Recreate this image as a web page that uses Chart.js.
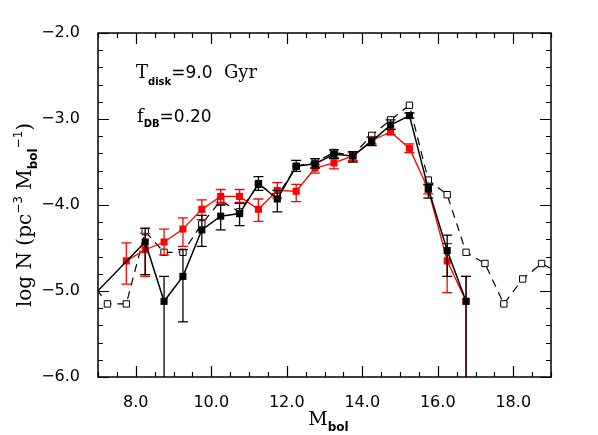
<!DOCTYPE html>
<html>
<head>
<meta charset="utf-8">
<script src="https://cdn.jsdelivr.net/npm/chart.js@4"></script>
<style>
  html, body { margin: 0; padding: 0; background: #fff; }
</style>
</head>
<body>
<canvas id="lf" width="598" height="435"></canvas>
<script>
// luminosity function (x = M_bol bin centres)
const X_TICKS = [8, 10, 12, 14, 16, 18];
const Y_TICKS = [-6, -5, -4, -3, -2];

// black filled squares (solid line); first bin sits off the left edge
const BLACK_X = [6.75, 8.25, 8.75, 9.25, 9.75, 10.25, 10.75, 11.25, 11.75, 12.25, 12.75, 13.25, 13.75, 14.25, 14.75, 15.25, 15.75, 16.25, 16.75];
const BLACK_Y = [-5.11, -4.43, -5.12, -4.83, -4.29, -4.13, -4.10, -3.75, -3.93, -3.55, -3.52, -3.41, -3.43, -3.26, -3.07, -2.96, -3.81, -4.53, -5.12];
const BLACK_LO = [null, -4.81, -6.5, -5.36, -4.48, -4.29, -4.24, -3.83, -4.08, -3.61, -3.57, -3.46, -3.50, -3.31, -3.12, -2.99, -3.92, -4.83, -6.5];
const BLACK_HI = [null, -4.27, -4.83, -4.52, -4.12, -4.00, -3.98, -3.67, -3.83, -3.48, -3.46, -3.36, -3.38, -3.21, -3.01, -2.93, -3.76, -4.35, -4.83];

// red filled squares
const RED_X = [7.75, 8.25, 8.75, 9.25, 9.75, 10.25, 10.75, 11.25, 11.75, 12.25, 12.75, 13.25, 13.75, 14.25, 14.75, 15.25, 15.75, 16.25, 16.75];
const RED_Y = [-4.65, -4.52, -4.43, -4.28, -4.05, -3.90, -3.90, -4.05, -3.83, -3.84, -3.57, -3.51, -3.43, -3.25, -3.15, -3.34, -3.82, -4.65, -5.12];
const RED_LO = [-4.92, -4.83, -4.58, -4.48, -4.17, -3.97, -3.97, -4.19, -3.92, -3.96, -3.63, -3.58, -3.48, -3.29, -3.18, -3.39, -3.87, -5.02, -6.5];
const RED_HI = [-4.44, -4.33, -4.28, -4.15, -3.94, -3.82, -3.82, -3.93, -3.74, -3.76, -3.53, -3.45, -3.39, -3.21, -3.12, -3.29, -3.77, -4.45, -4.83];

// open squares (dashed line, model)
const OPEN_X = [6.75, 7.25, 7.75, 8.25, 8.75, 9.25, 9.75, 10.25, 10.75, 11.25, 11.75, 12.25, 12.75, 13.25, 13.75, 14.25, 14.75, 15.25, 15.75, 16.25, 16.75, 17.25, 17.75, 18.25, 18.75, 19.25];
const OPEN_Y = [-4.85, -5.15, -5.15, -4.31, -4.55, -4.55, -4.22, -3.95, -4.08, -3.76, -3.90, -3.55, -3.50, -3.39, -3.42, -3.19, -3.01, -2.84, -3.71, -3.88, -4.55, -4.68, -5.15, -4.86, -4.68, -4.80];

const SANS = '"DejaVu Sans", sans-serif';
const SERIF = '"DejaVu Serif", serif';

function pts(xs, ys) {
  return xs.map((x, i) => ({ x, y: ys[i] }));
}

function fmt(v) {
  return v.toFixed(1).replace('-', '\u2212');
}

// draws a run of text pieces one after the other; returns total width
function richText(ctx, x, y, parts, measureOnly) {
  let cx = x;
  parts.forEach((p) => {
    ctx.font = p.font;
    if (!measureOnly) ctx.fillText(p.t, cx, y + (p.dy || 0));
    cx += ctx.measureText(p.t).width;
  });
  return cx - x;
}

const errorBars = {
  id: 'errorBars',
  afterDatasetDraw(chart, args) {
    const ds = chart.data.datasets[args.index];
    if (!ds.errLo) return;
    const ctx = chart.ctx;
    const ys = chart.scales.y;
    const a = chart.chartArea;
    ctx.save();
    ctx.beginPath();
    ctx.rect(a.left, a.top, a.right - a.left, a.bottom - a.top);
    ctx.clip();
    ctx.strokeStyle = ds.borderColor;
    ctx.lineWidth = 1.3;
    args.meta.data.forEach((el, i) => {
      const lo = ds.errLo[i];
      const hi = ds.errHi[i];
      if (lo == null || hi == null) return;
      const y1 = ys.getPixelForValue(lo);
      const y2 = ys.getPixelForValue(hi);
      ctx.beginPath();
      ctx.moveTo(el.x, y1);
      ctx.lineTo(el.x, y2);
      ctx.moveTo(el.x - 5, y1);
      ctx.lineTo(el.x + 5, y1);
      ctx.moveTo(el.x - 5, y2);
      ctx.lineTo(el.x + 5, y2);
      ctx.stroke();
    });
    ctx.restore();
  }
};

const frame = {
  id: 'frame',
  afterDraw(chart) {
    const ctx = chart.ctx;
    const a = chart.chartArea;
    const xs = chart.scales.x;
    const ys = chart.scales.y;
    ctx.save();
    ctx.strokeStyle = '#000';
    ctx.lineWidth = 1.5;
    ctx.strokeRect(a.left, a.top, a.right - a.left, a.bottom - a.top);

    ctx.lineWidth = 1.2;
    ctx.beginPath();
    for (let v = 7; v <= 19.001; v += 0.5) {
      const px = Math.round(xs.getPixelForValue(v)) + 0.5;
      const len = Math.abs(v % 2) < 1e-6 ? 11 : 5;
      ctx.moveTo(px, a.bottom);
      ctx.lineTo(px, a.bottom - len);
      ctx.moveTo(px, a.top);
      ctx.lineTo(px, a.top + len);
    }
    for (let v = -6; v <= -1.999; v += 0.2) {
      const py = Math.round(ys.getPixelForValue(v)) + 0.5;
      const major = Math.abs(v - Math.round(v)) < 1e-6;
      const len = major ? 11 : 5;
      ctx.moveTo(a.left, py);
      ctx.lineTo(a.left + len, py);
      ctx.moveTo(a.right, py);
      ctx.lineTo(a.right - len, py);
    }
    ctx.stroke();

    ctx.fillStyle = '#000';
    ctx.textBaseline = 'alphabetic';
    ctx.textAlign = 'left';

    // in-panel labels
    richText(ctx, 136, 78, [
      { t: 'T', font: '18px ' + SERIF },
      { t: 'disk', font: 'bold 10px ' + SANS, dy: 7 },
      { t: '=9.0', font: '17px ' + SANS },
      { t: '  Gyr', font: '18px ' + SERIF }
    ]);
    richText(ctx, 137, 122, [
      { t: 'f', font: '18px ' + SERIF },
      { t: 'DB', font: 'bold 10px ' + SANS, dy: 5 },
      { t: '=0.20', font: '17px ' + SANS }
    ]);

    // x title
    const xParts = [
      { t: 'M', font: '19px ' + SERIF },
      { t: 'bol', font: 'bold 12px ' + SANS, dy: 6 }
    ];
    const xw = richText(ctx, 0, 0, xParts, true);
    richText(ctx, (a.left + a.right) / 2 - xw / 2 + 4, 425, xParts);

    // y title (rotated)
    const yParts = [
      { t: 'log N (pc', font: '20px ' + SERIF },
      { t: '\u22123', font: '12px ' + SANS, dy: -9 },
      { t: ' M', font: '20px ' + SERIF },
      { t: 'bol', font: 'bold 12px ' + SANS, dy: 6 },
      { t: '\u22121', font: '12px ' + SANS, dy: -9 },
      { t: ')', font: '20px ' + SERIF }
    ];
    const yw = richText(ctx, 0, 0, yParts, true);
    ctx.translate(31, 215);
    ctx.rotate(-Math.PI / 2);
    richText(ctx, -yw / 2, 0, yParts);
    ctx.restore();
  }
};

new Chart(document.getElementById('lf'), {
  type: 'line',
  data: {
    datasets: [
      {
        data: pts(BLACK_X, BLACK_Y),
        errLo: BLACK_LO,
        errHi: BLACK_HI,
        borderColor: '#000',
        borderWidth: 1.5,
        pointStyle: 'rect',
        pointRadius: 5,
        pointBackgroundColor: '#000',
        pointBorderColor: '#000',
        pointBorderWidth: 0,
        order: 0
      },
      {
        data: pts(RED_X, RED_Y),
        errLo: RED_LO,
        errHi: RED_HI,
        borderColor: '#ff0000',
        borderWidth: 1.3,
        pointStyle: 'rect',
        pointRadius: 5,
        pointBackgroundColor: '#ff0000',
        pointBorderColor: '#ff0000',
        pointBorderWidth: 0,
        order: 1
      },
      {
        data: pts(OPEN_X, OPEN_Y),
        borderColor: '#000',
        borderWidth: 1.2,
        borderDash: [8, 6],
        pointStyle: 'rect',
        pointRadius: 4.5,
        pointBackgroundColor: '#fff',
        pointBorderColor: '#000',
        pointBorderWidth: 1,
        order: 2
      }
    ]
  },
  options: {
    responsive: false,
    animation: false,
    devicePixelRatio: 1,
    layout: { padding: { top: 33, right: 47, left: 0, bottom: 0 } },
    plugins: { legend: { display: false }, tooltip: { enabled: false } },
    elements: { line: { tension: 0 } },
    scales: {
      x: {
        type: 'linear',
        min: 7,
        max: 19,
        grid: { display: false },
        border: { display: false },
        afterBuildTicks: (s) => { s.ticks = X_TICKS.map((v) => ({ value: v })); },
        afterFit: (s) => { s.height = 58; },
        ticks: { color: '#000', padding: 8, maxRotation: 0, font: { family: SANS, size: 16 }, callback: (v) => fmt(v) }
      },
      y: {
        type: 'linear',
        min: -6,
        max: -2,
        grid: { display: false },
        border: { display: false },
        afterBuildTicks: (s) => { s.ticks = Y_TICKS.map((v) => ({ value: v })); },
        afterFit: (s) => { s.width = 98; },
        ticks: { color: '#000', padding: 10, font: { family: SANS, size: 16 }, callback: (v) => fmt(v) }
      }
    }
  },
  plugins: [errorBars, frame]
});
</script>
</body>
</html>
